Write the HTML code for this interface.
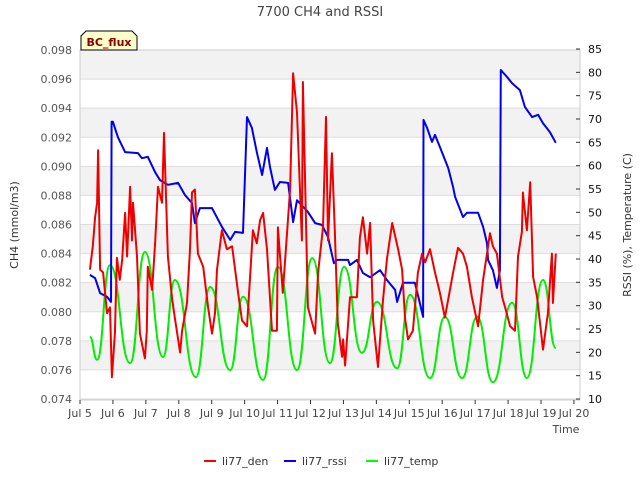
<!DOCTYPE html>
<html><head><meta charset="utf-8"><style>
body{margin:0;background:#fff;}
svg text{font-family:"DejaVu Sans","Liberation Sans",sans-serif;}
</style></head><body>
<svg id="chart" width="640" height="480" xmlns="http://www.w3.org/2000/svg">
<text x="320" y="16" text-anchor="middle" font-size="13" fill="#444">7700 CH4 and RSSI</text>
<g id="bands"></g>
<g id="grid"></g>
<rect x="80" y="50" width="500" height="350" fill="none" stroke="#ccc"/>
<g id="ticks"></g>
<g id="series"></g>
<text transform="translate(18,225) rotate(-90)" text-anchor="middle" font-size="11" fill="#333">CH4 (mmol/m3)</text>
<text transform="translate(631,225) rotate(-90)" text-anchor="middle" font-size="11" fill="#333">RSSI (%), Temperature (C)</text>
<text x="566" y="433" text-anchor="middle" font-size="11" fill="#444">Time</text>
<g>
<path d="M81,50 L81,36 L86,31 L132,31 L137,36 L137,50 Z" fill="#ffffcc" stroke="#000"/>
<text x="109" y="46" text-anchor="middle" font-size="11" font-weight="bold" fill="#8b0000">BC_flux</text>
</g>
<g>
<g><line x1="204" y1="461" x2="216" y2="461" stroke="#f00" stroke-width="2"/><text x="222" y="465" font-size="11" fill="#333">li77_den</text></g>
<g><line x1="284" y1="461" x2="296" y2="461" stroke="#00f" stroke-width="2"/><text x="302" y="465" font-size="11" fill="#333">li77_rssi</text></g>
<g><line x1="366" y1="461" x2="378" y2="461" stroke="#0f0" stroke-width="2"/><text x="384" y="465" font-size="11" fill="#333">li77_temp</text></g>
</g>
</svg>
<script>
const xTickLabels=["Jul 5","Jul 6","Jul 7","Jul 8","Jul 9","Jul 10","Jul 11","Jul 12","Jul 13","Jul 14","Jul 15","Jul 16","Jul 17","Jul 18","Jul 19","Jul 20"];
const leftTicks=[0.074,0.076,0.078,0.080,0.082,0.084,0.086,0.088,0.090,0.092,0.094,0.096,0.098];
const rightTicks=[10,15,20,25,30,35,40,45,50,55,60,65,70,75,80,85];
const denDays=[.30,.39,.46,.52,.55,.61,.70,.82,.91,.97,1.06,1.12,1.21,1.28,1.37,1.43,1.52,1.58,1.61,1.73,1.82,1.97,2.03,2.06,2.19,2.28,2.37,2.49,2.55,2.67,2.79,2.88,3.04,3.10,3.25,3.34,3.40,3.49,3.58,3.74,3.89,4.01,4.10,4.16,4.31,4.46,4.62,4.80,4.92,5.07,5.16,5.25,5.37,5.47,5.56,5.68,5.83,5.98,6.01,6.16,6.38,6.47,6.59,6.74,6.77,6.92,7.14,7.23,7.38,7.47,7.53,7.65,7.74,7.83,7.96,7.99,8.05,8.20,8.41,8.50,8.59,8.72,8.81,8.90,9.05,9.20,9.32,9.48,9.66,9.78,9.87,9.96,10.11,10.26,10.39,10.48,10.63,10.78,10.93,11.08,11.33,11.48,11.63,11.75,11.90,12.09,12.24,12.36,12.45,12.54,12.66,12.82,12.91,13.06,13.21,13.30,13.42,13.45,13.57,13.67,13.76,13.88,14.06,14.21,14.33,14.36,14.45];
const denValues=[.0829,.0845,.0865,.0875,.0911,.0829,.0827,.0799,.0803,.0755,.0785,.0837,.0822,.0836,.0868,.0838,.0886,.0849,.0875,.0838,.0785,.0768,.0787,.0831,.0815,.0847,.0886,.0875,.0923,.0838,.0810,.0796,.0772,.0787,.0806,.0843,.0882,.0884,.0840,.0831,.0803,.0785,.0799,.0829,.0856,.0843,.0845,.0813,.0794,.0790,.0822,.0856,.0847,.0863,.0868,.0843,.0787,.0787,.0858,.0813,.0884,.0964,.0937,.0849,.0958,.0803,.0785,.0827,.0858,.0934,.0849,.0909,.0854,.0792,.0769,.0781,.0763,.0810,.0810,.0851,.0865,.0840,.0861,.0794,.0762,.0808,.0836,.0861,.0843,.0829,.0796,.0781,.0787,.0827,.0840,.0834,.0843,.0827,.0813,.0796,.0827,.0844,.0840,.0831,.0810,.0790,.0822,.0840,.0854,.0845,.0840,.0810,.0803,.0790,.0787,.0838,.0855,.0882,.0856,.0889,.0824,.0810,.0774,.0799,.0840,.0806,.0840];
const rssiDays=[.30,.46,.61,.82,.94,.96,1.00,1.15,1.37,1.76,1.88,2.06,2.28,2.43,2.67,2.98,3.19,3.40,3.49,3.64,4.01,4.31,4.56,4.71,4.95,5.07,5.22,5.37,5.53,5.68,5.77,5.92,6.07,6.32,6.47,6.59,6.92,7.14,7.35,7.53,7.71,7.80,8.14,8.20,8.41,8.59,8.81,9.11,9.32,9.57,9.63,9.81,10.17,10.32,10.42,10.43,10.54,10.69,10.78,10.93,11.18,11.33,11.39,11.63,11.75,12.09,12.24,12.36,12.39,12.54,12.66,12.75,12.78,12.97,13.12,13.36,13.51,13.73,13.91,14.06,14.27,14.45];
const rssiValues=[36.6,35.9,32.7,31.9,30.8,69.4,69.4,66.1,62.9,62.7,61.6,61.9,58.6,56.9,55.9,56.3,53.7,52.0,47.7,50.9,50.9,46.9,44.1,45.8,45.6,70.4,68.1,62.9,58.0,63.8,59.7,54.8,56.5,56.3,47.9,52.6,50.1,47.7,47.3,44.7,39.1,39.8,39.8,38.7,39.8,37.0,36.1,37.6,35.5,33.4,30.8,34.9,34.9,30.6,27.6,69.8,68.1,65.1,66.6,64.0,59.5,55.4,53.3,49.0,49.9,49.9,46.9,43.4,39.8,37.6,33.8,37.6,80.5,79.0,77.7,76.2,72.6,70.4,70.9,69.1,67.2,64.9];
const tempDays=[.30,.52,.91,1.52,1.97,2.52,2.88,3.52,3.95,4.56,4.95,5.56,6.01,6.59,7.05,7.59,8.02,8.56,9.02,9.63,10.02,10.63,11.08,11.60,12.06,12.54,13.12,13.57,14.06,14.45];
const tempValues=[23.3,18.4,38.7,17.7,41.5,19.0,35.5,14.7,34.0,16.2,31.9,14.1,38.3,16.2,40.2,17.7,38.3,19.9,30.8,16.6,32.3,14.5,27.6,14.5,27.6,13.6,30.6,14.5,35.5,20.9];

const NS="http://www.w3.org/2000/svg";
const X0=80,X1=580,Y0=50,Y1=400;
const xs=d=>X0+d*32.93;
const yL=v=>399-(v-0.074)/0.024*349;
const yR=v=>399-(v-10)/75*350;
function mk(tag,attrs,parent){const e=document.createElementNS(NS,tag);for(const k in attrs)e.setAttribute(k,attrs[k]);parent.appendChild(e);return e;}
const bands=document.getElementById('bands'),grid=document.getElementById('grid'),ticks=document.getElementById('ticks'),series=document.getElementById('series');
mk('rect',{x:X0,y:Y0,width:500,height:350,fill:'#fff'},bands);
for(let i=0;i<leftTicks.length-1;i++){
  if(i%2===1){const r=mk('rect',{x:X0,y:yL(leftTicks[i+1]),width:500,height:yL(leftTicks[i])-yL(leftTicks[i+1]),fill:'#f2f2f2'},bands);
  
  }
}
leftTicks.forEach(v=>{
  const l=mk('line',{x1:X0,x2:X1,y1:yL(v),y2:yL(v),stroke:'#ddd'},grid);
  
  
  const t=mk('text',{x:72,y:yL(v)+4,'text-anchor':'end','font-size':11,fill:'#555'},ticks);
  t.textContent=v.toFixed(3);
  
  
});
rightTicks.forEach(v=>{
  mk('line',{x1:X1-4,x2:X1,y1:yR(v),y2:yR(v),stroke:'#333'},ticks);
  const t=mk('text',{x:588,y:yR(v)+4,'font-size':11,fill:'#111'},ticks);
  t.textContent=v;
  
  
});
xTickLabels.forEach((s,i)=>{
  mk('line',{x1:xs(i),x2:xs(i),y1:Y1,y2:Y1+4,stroke:'#333'},ticks);
  const t=mk('text',{x:xs(i),y:417,'text-anchor':'middle','font-size':11,fill:'#444'},ticks);
  t.textContent=s;
  
  
});
function line(days,vals,yf,color,name,smooth){
  const pts=days.map((d,i)=>[xs(d),yf(vals[i])]);
  let d='M'+pts[0][0].toFixed(1)+','+pts[0][1].toFixed(1);
  for(let i=1;i<pts.length;i++){
    if(smooth){
      const p0=pts[i-1],p1=pts[i],dx=(p1[0]-p0[0])/2;
      d+=' C'+(p0[0]+dx).toFixed(1)+','+p0[1].toFixed(1)+' '+(p1[0]-dx).toFixed(1)+','+p1[1].toFixed(1)+' '+p1[0].toFixed(1)+','+p1[1].toFixed(1);
    } else d+=' L'+pts[i][0].toFixed(1)+','+pts[i][1].toFixed(1);
  }
  const p=mk('path',{d:d,fill:'none',stroke:color,'stroke-width':2,'stroke-linejoin':'round'},series);
  
  
}
line(tempDays,tempValues,yR,'#00ee00','temp-line',true);
line(rssiDays,rssiValues,yR,'#0000ee','rssi-line',false);
line(denDays,denValues,yL,'#ee0000','den-line',false);
</script>
</body></html>
